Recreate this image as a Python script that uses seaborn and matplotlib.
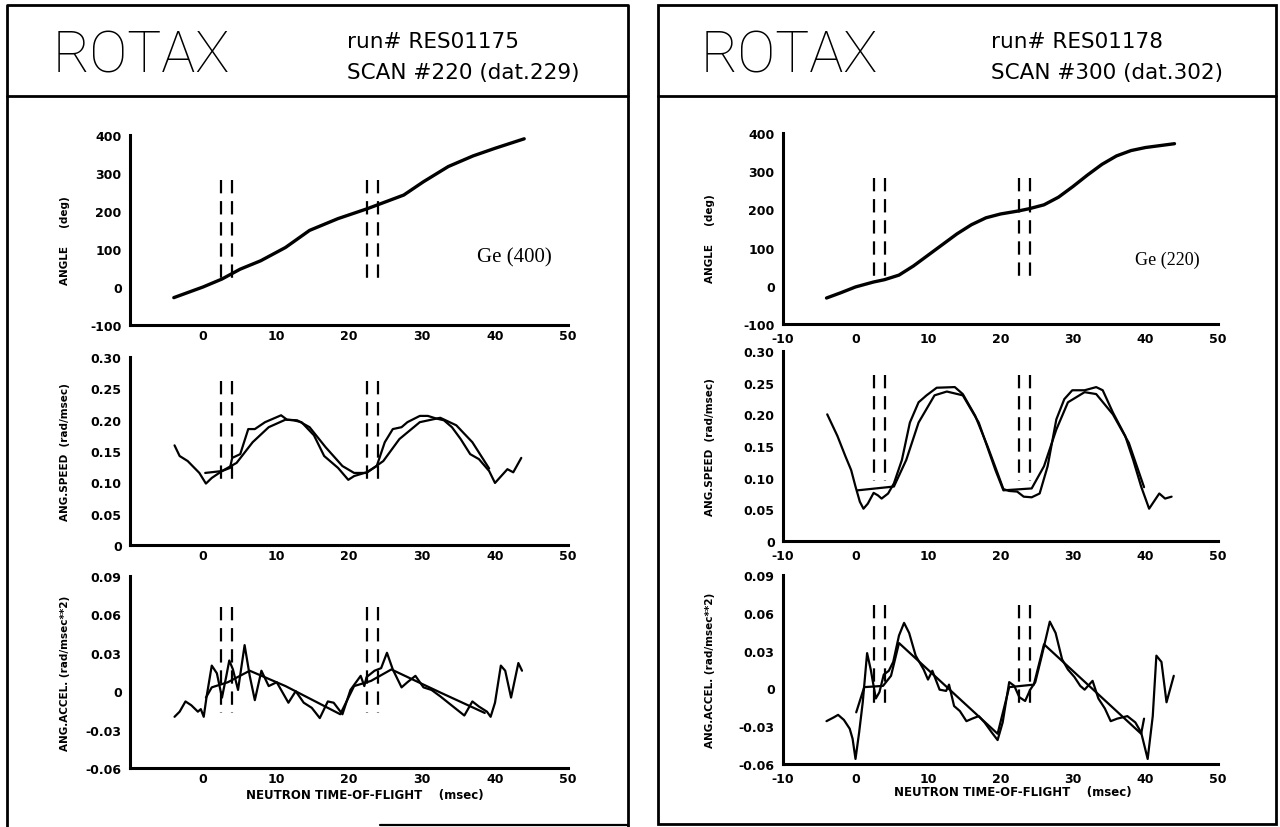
import numpy as np
import matplotlib.pyplot as plt
import seaborn as sns
from matplotlib.patches import Rectangle
from matplotlib.lines import Line2D

sns.set_style('white')
plt.rcParams['font.family'] = ['DejaVu Sans']
plt.rcParams['text.color'] = 'black'
plt.rcParams['axes.labelcolor'] = 'black'
plt.rcParams['xtick.color'] = 'black'
plt.rcParams['ytick.color'] = 'black'

W, H = 1280, 828

# --- values (time in msec) ---
# left: Ge (400), run RES01175
l_ang_t = [-4, -2, 0, 2.6, 5.1, 7.9, 11.3, 14.6, 18.5, 22.5, 25, 27.5, 30.2, 33.6, 37, 40, 44]
l_ang = [-28, -14, 0, 21, 47, 69, 104, 149, 180, 206, 224, 242, 277, 317, 345, 365, 390]

l_spd_t = [-3.9, -3.2, -2.1, -0.5, 0.4, 1.2, 2.6, 3.7, 4.0, 5.1, 6.2, 7.1, 8.5, 10.7, 11.5, 12.4,
           13.5, 15.2, 16.6, 18.5, 19.9, 20.7, 22.4, 23.8, 24.9, 26.0, 27.2, 28.0, 29.7, 30.8,
           31.9, 33.0, 34.1, 35.3, 36.6, 37.8, 39.2, 40.0, 41.7, 42.5, 43.6]
l_spd = [0.159, 0.142, 0.134, 0.115, 0.098, 0.107, 0.118, 0.123, 0.139, 0.145, 0.185, 0.185,
         0.196, 0.207, 0.200, 0.199, 0.196, 0.175, 0.142, 0.123, 0.104, 0.110, 0.116, 0.126,
         0.164, 0.185, 0.188, 0.196, 0.206, 0.206, 0.202, 0.199, 0.188, 0.169, 0.145, 0.137,
         0.118, 0.099, 0.121, 0.116, 0.139]
l_spd_fit_t = [0.3, 2.6, 4.6, 6.8, 9.0, 11.3, 12.9, 14.6, 16.8, 19.1, 20.7, 22.4, 24.7, 26.9,
               29.7, 32.5, 34.7, 36.9, 39.2]
l_spd_fit = [0.115, 0.118, 0.131, 0.164, 0.188, 0.200, 0.199, 0.188, 0.156, 0.126, 0.115,
             0.115, 0.134, 0.169, 0.196, 0.203, 0.191, 0.164, 0.122]

l_acc_t = [-3.9, -3.2, -2.4, -1.6, -0.7, -0.3, 0.1, 0.5, 1.2, 1.9, 2.6, 3.2, 3.6, 4.1, 4.8, 5.7,
           6.4, 7.1, 8.0, 9.0, 10.1, 11.7, 12.7, 13.8, 14.9, 16.0, 17.1, 17.9, 19.1, 20.2, 21.6,
           22.1, 22.4, 23.5, 24.4, 25.2, 26.0, 27.2, 28.0, 29.1, 30.2, 31.3, 32.5, 33.6, 34.7,
           35.8, 36.9, 37.8, 38.9, 39.4, 40.0, 40.8, 41.4, 42.2, 43.2, 43.7]
l_acc = [-0.020, -0.016, -0.008, -0.011, -0.016, -0.014, -0.020, -0.004, 0.020, 0.014, -0.005,
         0.012, 0.024, 0.017, 0.001, 0.036, 0.012, -0.007, 0.016, 0.004, 0.007, -0.009, 0.000,
         -0.009, -0.013, -0.021, -0.008, -0.009, -0.018, 0.001, 0.012, 0.004, 0.011, 0.016,
         0.018, 0.030, 0.017, 0.003, 0.007, 0.012, 0.003, 0.001, -0.004, -0.009, -0.014, -0.019,
         -0.008, -0.012, -0.016, -0.020, -0.009, 0.020, 0.016, -0.005, 0.022, 0.016]
l_acc_fit_t = [0.4, 1.2, 3.4, 6.4, 11.3, 18.8, 20.7, 23.0, 25.8, 32.5, 38.6]
l_acc_fit = [-0.005, 0.003, 0.007, 0.016, 0.004, -0.018, 0.004, 0.008, 0.017, -0.001, -0.017]

# right: Ge (220), run RES01178
r_ang_t = [-4, -2, 0, 2.5, 4, 6, 8, 10, 12, 14, 16, 18, 20, 22.5, 24, 26, 28, 30, 32, 34, 36,
           38, 40, 42, 44]
r_ang = [-32, -18, -3, 10, 16, 28, 52, 80, 108, 136, 160, 178, 188, 196, 202, 212, 232, 260,
         290, 318, 340, 354, 362, 367, 372]

r_spd_t = [-3.9, -2.5, -1.4, -0.6, 0.0, 0.6, 1.1, 1.7, 2.5, 3.1, 3.6, 4.5, 5.3, 6.4, 7.5, 8.7,
           9.8, 11.2, 13.7, 14.8, 16.5, 18.2, 19.6, 20.4, 21.2, 22.3, 23.2, 24.3, 25.4, 26.5,
           27.7, 28.8, 29.9, 31.6, 33.2, 34.1, 35.5, 37.2, 38.3, 39.4, 40.5, 41.9, 42.7, 43.6]
r_spd = [0.200, 0.166, 0.134, 0.112, 0.086, 0.062, 0.051, 0.059, 0.076, 0.072, 0.067, 0.075,
         0.091, 0.128, 0.187, 0.219, 0.230, 0.242, 0.243, 0.232, 0.198, 0.150, 0.107, 0.082,
         0.079, 0.078, 0.070, 0.069, 0.075, 0.118, 0.192, 0.224, 0.238, 0.238, 0.243, 0.238,
         0.203, 0.166, 0.128, 0.086, 0.051, 0.075, 0.067, 0.070]
r_spd_fit_t = [0.3, 5.3, 7.0, 8.7, 10.9, 12.6, 14.8, 17.0, 19.3, 20.4, 24.3, 26.0, 27.7, 29.3,
               31.6, 33.2, 35.5, 37.7, 39.8]
r_spd_fit = [0.080, 0.086, 0.128, 0.187, 0.230, 0.236, 0.230, 0.187, 0.112, 0.080, 0.083,
             0.118, 0.176, 0.219, 0.235, 0.232, 0.200, 0.155, 0.085]

r_acc_t = [-4.0, -3.0, -2.4, -1.6, -0.8, -0.4, 0.0, 0.5, 1.0, 1.6, 2.1, 2.8, 3.3, 3.9, 4.6, 5.2,
           6.0, 6.7, 7.4, 8.3, 9.4, 10.0, 10.6, 11.6, 12.5, 12.9, 13.6, 14.4, 15.3, 16.1, 17.0,
           17.8, 18.8, 19.6, 20.3, 21.2, 21.9, 22.6, 23.4, 24.1, 24.8, 25.7, 26.8, 27.6, 28.5,
           29.3, 30.2, 31.0, 31.6, 32.7, 33.5, 34.4, 35.2, 36.1, 37.5, 38.6, 39.4, 40.3, 41.0,
           41.5, 42.2, 42.9, 43.9]
r_acc = [-0.026, -0.023, -0.021, -0.025, -0.032, -0.040, -0.056, -0.035, -0.011, 0.028, 0.015,
         -0.008, -0.003, 0.011, 0.014, 0.021, 0.042, 0.052, 0.044, 0.026, 0.015, 0.007, 0.014,
         -0.001, -0.002, 0.003, -0.014, -0.018, -0.026, -0.024, -0.022, -0.027, -0.035, -0.041,
         -0.027, 0.005, 0.002, -0.007, -0.010, -0.001, 0.005, 0.026, 0.053, 0.044, 0.023, 0.015,
         0.009, 0.002, -0.001, 0.006, -0.008, -0.016, -0.026, -0.024, -0.022, -0.027, -0.035,
         -0.056, -0.022, 0.026, 0.021, -0.011, 0.010]
r_acc_fit_t = [0.1, 1.2, 3.8, 4.9, 6.0, 19.6, 21.2, 24.6, 26.0, 39.4, 39.8]
r_acc_fit = [-0.019, 0.001, 0.002, 0.010, 0.036, -0.036, 0.001, 0.003, 0.035, -0.036, -0.024]

# chopper-window markers and their vertical extent per panel (drawn top-down)
window_t = [2.5, 4.0, 22.5, 24.0]
window_ang = (282, 10)
window_spd = (0.262, 0.095)
window_acc = (0.066, -0.017)

ang_ticks = [-100, 0, 100, 200, 300, 400]
ang_labels = ['-100', '0', '100', '200', '300', '400']
spd_ticks = [0, 0.05, 0.10, 0.15, 0.20, 0.25, 0.30]
spd_labels = ['0', '0.05', '0.10', '0.15', '0.20', '0.25', '0.30']
acc_ticks = [-0.06, -0.03, 0, 0.03, 0.06, 0.09]
acc_labels = ['-0.06', '-0.03', '0', '0.03', '0.06', '0.09']
t_ticks_left = [0, 10, 20, 30, 40, 50]
t_ticks_right = [-10, 0, 10, 20, 30, 40, 50]

headers = [
    dict(run='run# RES01175', scan='SCAN #220 (dat.229)', xtal='Ge (400)'),
    dict(run='run# RES01178', scan='SCAN #300 (dat.302)', xtal='Ge (220)'),
]


def fx(px):
    return px / W


def fy(py):
    return 1 - py / H


def add_axes(x0, x1, top, bottom):
    return fig.add_axes([fx(x0), fy(bottom), fx(x1 - x0), (bottom - top) / H])


def style(ax, yticks, ylabels, ylim, xticks, xpad, minor_y=None):
    ax.set_xlim(-10, 50)
    ax.set_ylim(*ylim)
    for s in ['top', 'right']:
        ax.spines[s].set_visible(False)
    for s in ['left', 'bottom']:
        ax.spines[s].set_linewidth(2.2)
        ax.spines[s].set_color('black')
    ax.set_xticks(xticks)
    ax.set_xticklabels([str(t) for t in xticks], fontweight='bold')
    ax.set_xticks([-5, 5, 15, 25, 35, 45], minor=True)
    ax.set_yticks(yticks)
    ax.set_yticklabels(ylabels, fontweight='bold')
    if minor_y is not None:
        ax.set_yticks(minor_y, minor=True)
    ax.tick_params(which='major', direction='in', length=7, width=1.6, labelsize=9,
                   colors='black')
    ax.tick_params(which='minor', direction='in', length=4, width=1.4)
    ax.tick_params(axis='y', pad=6)
    ax.tick_params(axis='x', pad=xpad)
    ax.set_facecolor('white')
    ax.grid(False)


def curve(ax, t, v, lw=1.6):
    sns.lineplot(x=t, y=v, ax=ax, color='black', linewidth=lw, estimator=None, sort=False)


def windows(ax, ext):
    ax.vlines(window_t, ext[0], ext[1], colors='black', linewidth=1.6,
              linestyles=[(0, (6, 3.5))])


fig = plt.figure(figsize=(12.8, 8.28), dpi=100)

# frames: left sheet runs off the bottom of the scan, only a stub of its lower edge shows
fig.add_artist(Line2D([fx(7), fx(7), fx(628), fx(628)], [fy(830), fy(6), fy(6), fy(830)],
                      transform=fig.transFigure, lw=2.0, color='black'))
fig.add_artist(Line2D([fx(380), fx(628)], [fy(826), fy(826)], transform=fig.transFigure,
                      lw=1.6, color='black'))
fig.add_artist(Rectangle((fx(658), fy(825)), fx(1276 - 658), (825 - 6) / H,
                         transform=fig.transFigure, fill=False, lw=2.0, ec='black'))
for bx0, bx1 in [(7, 628), (658, 1276)]:
    fig.add_artist(Line2D([fx(bx0), fx(bx1)], [fy(97), fy(97)], transform=fig.transFigure,
                          lw=2.0, color='black'))

cols = [
    dict(x0=130, x1=568, rows=[(136, 326), (358, 546), (577, 769)], ticks=t_ticks_left,
         title_x=53, text_x=347, ylab_x=70, xlab_x=365, xlab_y=796, xpad=3,
         gx=37.5, gy=80, gsize=15),
    dict(x0=783, x1=1218, rows=[(134, 325), (352, 542), (576, 765)], ticks=t_ticks_right,
         title_x=701, text_x=991, ylab_x=715, xlab_x=1013, xlab_y=793, xpad=6,
         gx=38.5, gy=68, gsize=13),
]
data = [
    (l_ang_t, l_ang, l_spd_t, l_spd, l_spd_fit_t, l_spd_fit, l_acc_t, l_acc, l_acc_fit_t, l_acc_fit),
    (r_ang_t, r_ang, r_spd_t, r_spd, r_spd_fit_t, r_spd_fit, r_acc_t, r_acc, r_acc_fit_t, r_acc_fit),
]

for c, hd, d in zip(cols, headers, data):
    at, av, st, sv, sft, sfv, ct, cv, cft, cfv = d

    fig.text(fx(c['title_x']), fy(57), 'ROTAX', family='Roboto', fontweight='light',
             fontsize=41, va='center', ha='left')
    fig.text(fx(c['text_x']), fy(42), hd['run'], fontsize=15.5, va='center', ha='left')
    fig.text(fx(c['text_x']), fy(73), hd['scan'], fontsize=15.5, va='center', ha='left')

    ylab_ax = (c['ylab_x'] - c['x0']) / (c['x1'] - c['x0'])

    # angle
    ax = add_axes(c['x0'], c['x1'], *c['rows'][0])
    style(ax, ang_ticks, ang_labels, (-100, 400), c['ticks'], c['xpad'],
          minor_y=[-50, 50, 150, 250, 350])
    curve(ax, at, av, lw=2.4)
    windows(ax, window_ang)
    ax.text(c['gx'], c['gy'], hd['xtal'], family='Liberation Serif', fontsize=c['gsize'],
            va='center', ha='left')
    ax.set_ylabel('ANGLE     (deg)', fontsize=7.5, fontweight='bold')
    ax.yaxis.set_label_coords(ylab_ax, 0.45)

    # angular speed
    ax = add_axes(c['x0'], c['x1'], *c['rows'][1])
    style(ax, spd_ticks, spd_labels, (0, 0.30), c['ticks'], c['xpad'])
    curve(ax, st, sv)
    curve(ax, sft, sfv)
    windows(ax, window_spd)
    ax.set_ylabel('ANG.SPEED  (rad/msec)', fontsize=7.5, fontweight='bold')
    ax.yaxis.set_label_coords(ylab_ax, 0.5)

    # angular acceleration
    ax = add_axes(c['x0'], c['x1'], *c['rows'][2])
    style(ax, acc_ticks, acc_labels, (-0.06, 0.09), c['ticks'], c['xpad'])
    curve(ax, ct, cv)
    curve(ax, cft, cfv)
    windows(ax, window_acc)
    ax.set_ylabel('ANG.ACCEL. (rad/msec**2)', fontsize=7.5, fontweight='bold')
    ax.yaxis.set_label_coords(ylab_ax, 0.5)
    ax.set_xlabel('NEUTRON TIME-OF-FLIGHT    (msec)', fontsize=8.5, fontweight='bold')
    top, bottom = c['rows'][2]
    ax.xaxis.set_label_coords((c['xlab_x'] - c['x0']) / (c['x1'] - c['x0']),
                              -(c['xlab_y'] - bottom) / (bottom - top))
    ax.xaxis.label.set_va('center')

fig.savefig('out.png', dpi=100)
